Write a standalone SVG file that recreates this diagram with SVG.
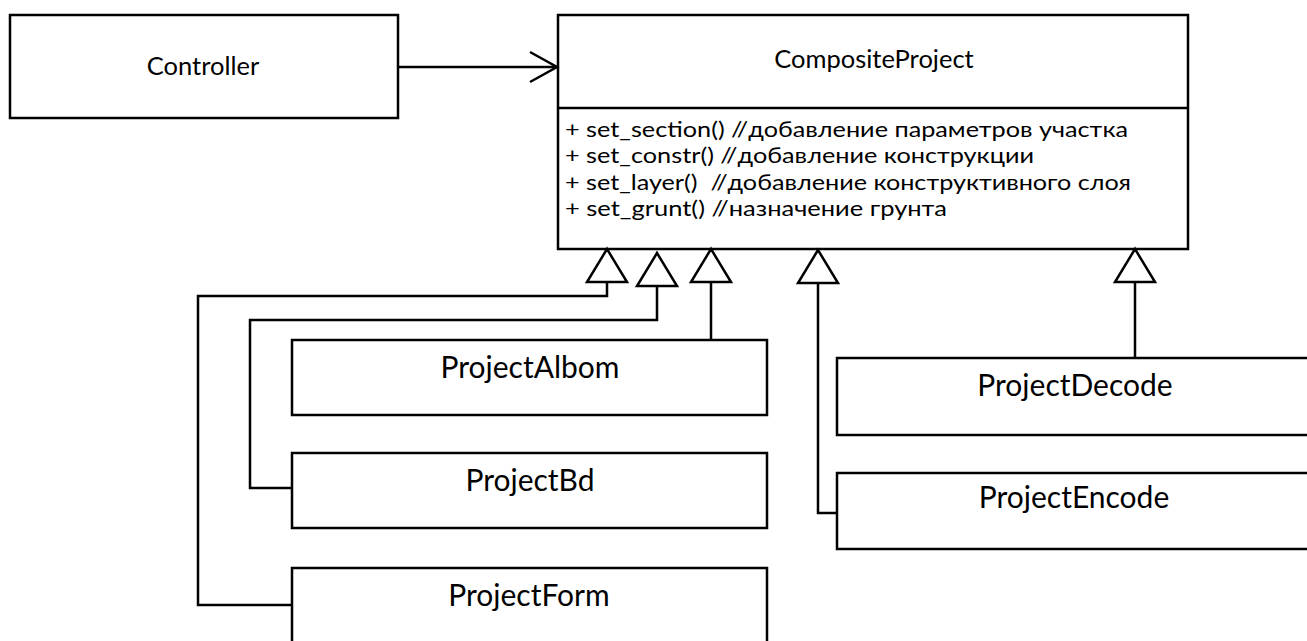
<svg xmlns="http://www.w3.org/2000/svg" width="1307" height="641" viewBox="0 0 1307 641">
  <style>
    .box { fill: #fff; stroke: #000; stroke-width: 2.5; }
    .wire { fill: none; stroke: #000; stroke-width: 2.5; }
    .tri { fill: #fff; stroke: #000; stroke-width: 2.5; stroke-linejoin: miter; }
    .name { font-family: Lato, "Liberation Sans", sans-serif; fill: #000; text-anchor: middle; }
    .small { font-size: 25.5px; }
    .big { font-size: 30px; }
    .member { font-family: Lato, "Liberation Sans", sans-serif; font-size: 21.5px; fill: #000; white-space: pre; }
  </style>

  <!-- classes -->
  <g id="controller">
    <rect class="box" x="10" y="15" width="388" height="103"/>
    <text class="name small" x="203" y="75">Controller</text>
  </g>

  <g id="composite-project">
    <rect class="box" x="558" y="15" width="630" height="234"/>
    <line class="wire" x1="558" y1="108" x2="1188" y2="108"/>
    <text class="name small" x="874" y="68">CompositeProject</text>
    <!-- operations, stretched to the compartment's column widths -->
    <text class="member" x="565" y="137" textLength="563" lengthAdjust="spacingAndGlyphs">+ set_section() //добавление параметров участка</text>
    <text class="member" x="565" y="163" textLength="469" lengthAdjust="spacingAndGlyphs">+ set_constr() //добавление конструкции</text>
    <text class="member" x="565" y="190" textLength="566" lengthAdjust="spacingAndGlyphs" xml:space="preserve">+ set_layer()  //добавление конструктивного слоя</text>
    <text class="member" x="565" y="216" textLength="382" lengthAdjust="spacingAndGlyphs">+ set_grunt() //назначение грунта</text>
  </g>

  <g id="project-albom">
    <rect class="box" x="292" y="340" width="475" height="75"/>
    <text class="name big" x="530" y="378">ProjectAlbom</text>
  </g>

  <g id="project-bd">
    <rect class="box" x="292" y="453" width="475" height="75"/>
    <text class="name big" x="530" y="491">ProjectBd</text>
  </g>

  <g id="project-form">
    <rect class="box" x="292" y="568" width="475" height="90"/>
    <text class="name big" x="529" y="606">ProjectForm</text>
  </g>

  <g id="project-decode">
    <rect class="box" x="837" y="358" width="490" height="77"/>
    <text class="name big" x="1075" y="396">ProjectDecode</text>
  </g>

  <g id="project-encode">
    <rect class="box" x="837" y="473" width="490" height="76"/>
    <text class="name big" x="1074" y="508">ProjectEncode</text>
  </g>

  <!-- associations and generalizations -->
  <g id="connectors">
    <!-- Controller -> CompositeProject (open arrow) -->
    <line class="wire" x1="398" y1="67" x2="557" y2="67"/>
    <polyline class="wire" points="530,52 557,67 530,82"/>

    <!-- ProjectForm -->
    <polyline class="wire" points="607,282 607,296 198,296 198,605 292,605"/>
    <polygon class="tri" points="607,249 587,282 627,282"/>

    <!-- ProjectBd -->
    <polyline class="wire" points="657,286 657,320 250,320 250,488 292,488"/>
    <polygon class="tri" points="657,253 637,286 677,286"/>

    <!-- ProjectAlbom -->
    <line class="wire" x1="711" y1="282" x2="711" y2="340"/>
    <polygon class="tri" points="711,249 691,282 731,282"/>

    <!-- ProjectEncode -->
    <polyline class="wire" points="818,283 818,513 837,513"/>
    <polygon class="tri" points="818,250 798,283 838,283"/>

    <!-- ProjectDecode -->
    <line class="wire" x1="1135" y1="282" x2="1135" y2="358"/>
    <polygon class="tri" points="1135,249 1115,282 1155,282"/>
  </g>
</svg>
